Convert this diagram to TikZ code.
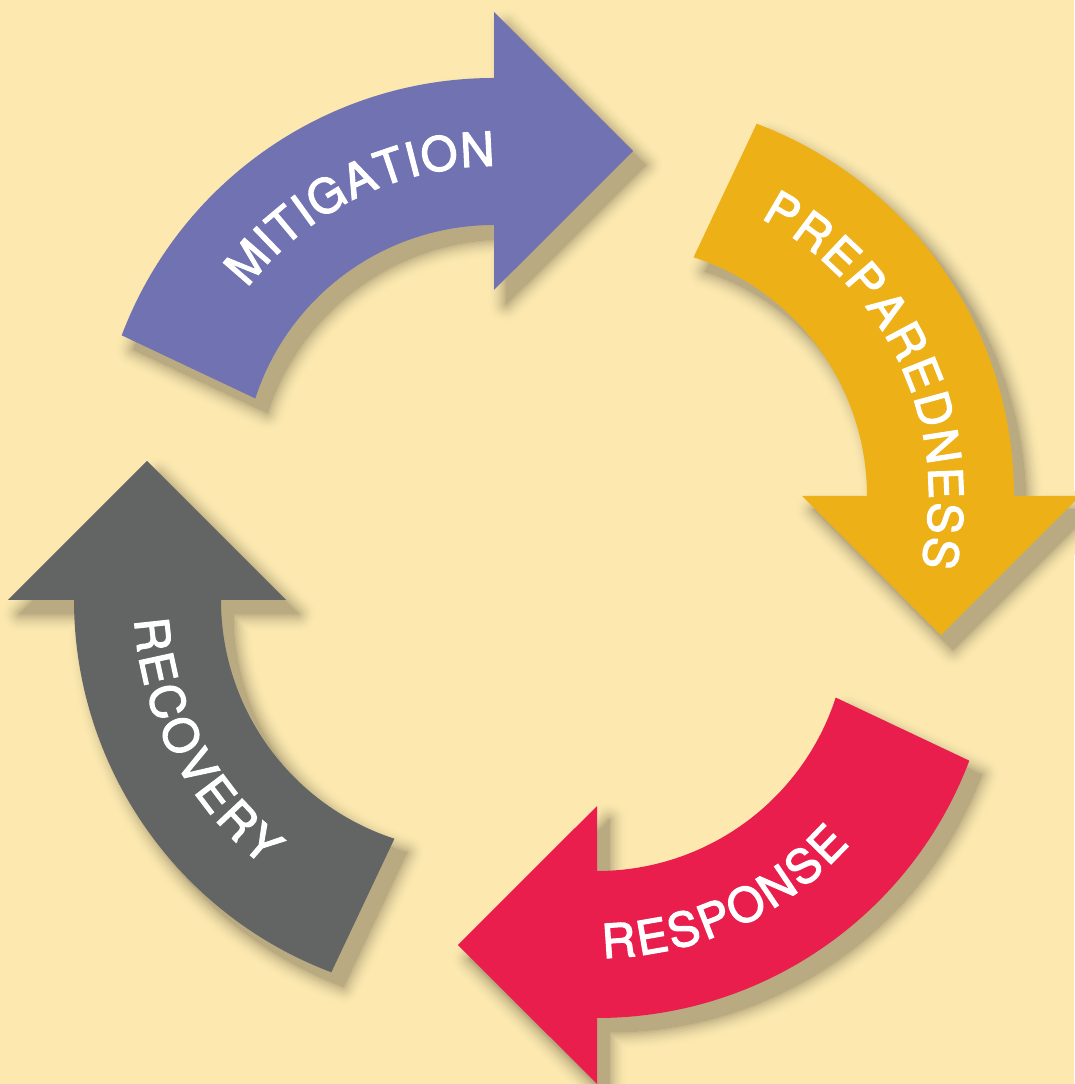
\documentclass[tikz,border=0pt]{standalone}
\usepackage{fontspec}
\newfontfamily\heros[FakeBold=2.5]{TeX Gyre Heros}
\usetikzlibrary{decorations.text}
\definecolor{bgyellow}{RGB}{253,233,176}
\definecolor{mitpurple}{RGB}{112,114,177}
\definecolor{preorange}{RGB}{238,176,23}
\definecolor{resred}{RGB}{233,30,76}
\definecolor{recgray}{RGB}{99,101,100}
% one curved arrow, ending at angle #1
\newcommand{\cyclearrow}[1]{({#1+69.3}:398) arc[start angle={#1+69.3}, end angle=#1, radius=398]
  -- (#1:464) -- ({#1-23.16}:353.5) -- (#1:186) -- (#1:251)
  arc[start angle=#1, end angle={#1+72}, radius=251] -- cycle}

\begin{document}
\begin{tikzpicture}[x=1pt, y=1pt,
  word/.style={decorate, decoration={text along path, text color=white, text align=fit to path,
    text={|\heros\fontsize{47}{56}\selectfont|#1}}}]
\fill[bgyellow] (0,0) rectangle (1074,1084);
\useasboundingbox (0,0) rectangle (1074,1084);
% soft shadows
\foreach \cx/\cy/\t in {494/608/90, 616/588/0, 597/464/-90, 472/484/180}
  \foreach \k in {12,...,0} {
    \pgfmathsetmacro\shadepct{100-27*(1-\k/13)*(1-\k/13)}
    \filldraw[bgyellow!\shadepct!black, line width=3.2*\k, line join=round,
      shift={(\cx+12,\cy-14)}] \cyclearrow{\t};
  }
% the four arrows of the cycle
\foreach \cx/\cy/\t/\col in {494/608/90/mitpurple, 616/588/0/preorange, 597/464/-90/resred, 472/484/180/recgray}
  \fill[\col, shift={(\cx,\cy)}] \cyclearrow{\t};
% labels
\path[word=MITIGATION, shift={(494,608)}] (142.7:310) arc[start angle=142.7, end angle=89.8, radius=310];
\path[word=PREPAREDNESS, shift={(616,588)}] (62.5:313) arc[start angle=62.5, end angle=-12.9, radius=313];
\path[word=RESPONSE, shift={(597,464)}] (-89:338) arc[start angle=-89, end angle=-41.6, radius=338];
\path[word=RECOVERY, shift={(472,484)}] (183.3:338) arc[start angle=183.3, end angle=232, radius=338];
\end{tikzpicture}
\end{document}
